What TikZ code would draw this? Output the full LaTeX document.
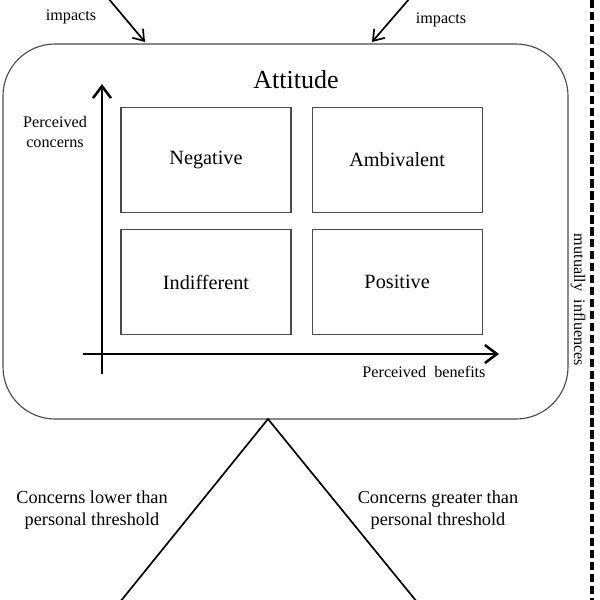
\documentclass[tikz,border=0pt]{standalone}
\usepackage{fontspec}
\setmainfont{Liberation Serif}
\usetikzlibrary{arrows.meta,positioning,calc}
\definecolor{attLine}{HTML}{4A4A4A}

\begin{document}
\begin{tikzpicture}[x=0.025cm,y=-0.025cm,font=\fontsize{11.5}{14}\selectfont,
    quad/.style={draw=attLine,line width=0.8pt,minimum width=170*0.025cm,
                 minimum height=105*0.025cm,font=\fontsize{14.4}{17}\selectfont},
    axis/.style={line width=1.8pt,-{Straight Barb[length=3mm,width=4.5mm]}},
    imp/.style={line width=1.2pt,-{Straight Barb[length=2.5mm,width=3.5mm]}},
    lbl/.style={align=center,inner sep=1pt}]
  \useasboundingbox (0,0) rectangle (600,600);
  % attitude frame
  \draw[attLine,line width=0.8pt,rounded corners=1.3cm] (3,44) rectangle (568,419);
  \coordinate (apex) at (268,419);
  \coordinate (inL) at (145,42);
  \coordinate (inR) at (372,42);
  \node[font=\fontsize{18.5}{22}\selectfont] (title) at (296,80) {Attitude};
  % the four attitudes
  \node[quad] (neg) at (206,160) {Negative};
  \node[quad,right=20*0.025cm of neg] (amb) {Ambivalent};
  \node[quad,below=16*0.025cm of neg] (ind) {Indifferent};
  \node[quad,right=20*0.025cm of ind] (pos) {Positive};
  % axes
  \coordinate (yb) at (102,374);
  \coordinate (yt) at (102,84);
  \coordinate (xl) at (83,354);
  \coordinate (xr) at (499,354);
  \draw[axis] (yb) -- (yt);
  \draw[axis] (xl) -- (xr);
  \node[lbl] (conc) at (55,132) {Perceived\\concerns};
  \node[lbl] (ben) at (424,372) {Perceived\enskip benefits};
  % incoming impacts
  \coordinate (srcL) at (108,-2);
  \coordinate (srcR) at (410,-2);
  \draw[imp] (srcL) -- (inL);
  \draw[imp] (srcR) -- (inR);
  \node[lbl] (impL) at (71,17) {impacts};
  \node[lbl] (impR) at (441,20) {impacts};
  % mutual influence
  \coordinate (dtop) at (592,0);
  \coordinate (dbot) at (592,600);
  \draw[line width=2.4pt,dash pattern=on 6pt off 2.5pt] (dtop) -- (dbot);
  \node[lbl,rotate=-90] (mut) at (578,300) {mutually\enskip influences};
  % threshold split
  \coordinate (endL) at (120,602);
  \coordinate (endR) at (417,602);
  \draw[line width=1.2pt] (endL) -- (apex) -- (endR);
  \node[lbl,font=\fontsize{13}{16}\selectfont] (low) at (92,510) {Concerns lower than\\personal threshold};
  \node[lbl,font=\fontsize{13}{16}\selectfont] (high) at (438,510) {Concerns greater than\\personal threshold};
\end{tikzpicture}
\end{document}
